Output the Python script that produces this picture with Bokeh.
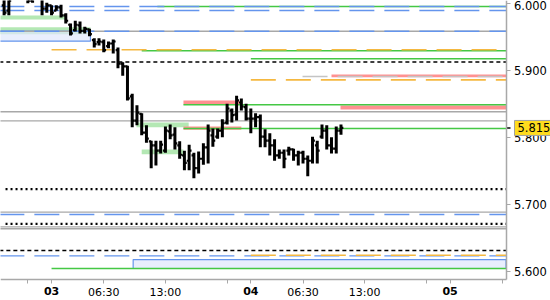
from bokeh.plotting import figure
from bokeh.models import Range1d, FixedTicker, NumeralTickFormatter, Label
from bokeh.embed import file_html
from bokeh.resources import INLINE

# ---- data: 30-minute bars, x = bar slot (slot 0 = first bar of day 03) ----
slots = list(range(-10, 62))
bar_high = [6.013, 6.017, 6.050, 6.058, 6.050, 6.028, 6.023, 6.020, 6.013, 6.002,
            5.998, 5.998, 5.999, 5.986, 5.971, 5.975, 5.974, 5.966, 5.963, 5.949,
            5.949, 5.947, 5.944, 5.947, 5.935, 5.913, 5.908, 5.866, 5.849, 5.837,
            5.819, 5.796, 5.796, 5.796, 5.817, 5.820, 5.816, 5.795, 5.781, 5.790,
            5.778, 5.780, 5.792, 5.820, 5.814, 5.814, 5.828, 5.851, 5.844, 5.863,
            5.859, 5.851, 5.844, 5.837, 5.835, 5.813, 5.807, 5.798, 5.783, 5.783,
            5.787, 5.784, 5.781, 5.781, 5.774, 5.802, 5.796, 5.820, 5.819, 5.801,
            5.817, 5.820]
bar_low = [5.983, 5.983, 6.017, 6.028, 6.017, 6.001, 6.002, 6.008, 5.983, 5.987,
           5.983, 5.990, 5.980, 5.971, 5.953, 5.959, 5.956, 5.956, 5.952, 5.935,
           5.938, 5.928, 5.934, 5.926, 5.904, 5.893, 5.856, 5.816, 5.819, 5.804,
           5.793, 5.755, 5.759, 5.777, 5.778, 5.798, 5.783, 5.769, 5.752, 5.752,
           5.740, 5.747, 5.760, 5.762, 5.787, 5.799, 5.801, 5.820, 5.823, 5.826,
           5.841, 5.826, 5.807, 5.816, 5.786, 5.786, 5.774, 5.766, 5.769, 5.755,
           5.774, 5.766, 5.759, 5.762, 5.743, 5.762, 5.762, 5.799, 5.783, 5.777,
           5.777, 5.805]
bar_open = [5.998, 5.990, 6.020, 6.043, 6.035, 6.020, 6.005, 6.013, 6.010, 5.993,
            5.998, 5.990, 5.995, 5.983, 5.969, 5.961, 5.968, 5.960, 5.962, 5.946,
            5.943, 5.943, 5.937, 5.941, 5.931, 5.911, 5.907, 5.862, 5.826, 5.836,
            5.808, 5.795, 5.789, 5.781, 5.781, 5.810, 5.805, 5.789, 5.774, 5.766,
            5.774, 5.755, 5.769, 5.786, 5.804, 5.802, 5.811, 5.823, 5.841, 5.835,
            5.853, 5.846, 5.829, 5.829, 5.831, 5.802, 5.796, 5.789, 5.774, 5.778,
            5.781, 5.783, 5.774, 5.778, 5.769, 5.766, 5.789, 5.802, 5.811, 5.789,
            5.784, 5.811]
bar_close = [5.987, 6.005, 6.043, 6.035, 6.020, 6.005, 6.013, 6.010, 5.993, 5.998,
             5.987, 5.995, 5.983, 5.975, 5.956, 5.969, 5.960, 5.963, 5.955, 5.940,
             5.944, 5.931, 5.941, 5.944, 5.911, 5.907, 5.859, 5.826, 5.838, 5.808,
             5.799, 5.789, 5.781, 5.790, 5.811, 5.804, 5.792, 5.775, 5.763, 5.781,
             5.755, 5.769, 5.786, 5.811, 5.796, 5.811, 5.822, 5.844, 5.834, 5.856,
             5.847, 5.829, 5.829, 5.831, 5.802, 5.796, 5.789, 5.774, 5.778, 5.769,
             5.783, 5.774, 5.778, 5.769, 5.766, 5.796, 5.781, 5.811, 5.789, 5.784,
             5.811, 5.815]
last_price = 5.815

# x ticks (bar slots) and their labels
x_ticks = [-5, 0, 11, 24, 37, 42, 53, 66, 79, 84, 95]
x_tick_labels = ["", "03", "06:30", "13:00", "", "04", "06:30", "13:00", "", "05", ""]
day_labels = ["03", "04", "05"]
y_ticks = [5.6, 5.7, 5.8, 5.9, 6.0]

# horizontal levels: price and first slot
gray_levels = [5.9594, 5.8391, 5.8256, 5.6893, 5.6674, 5.6645]
blue_dash_levels = [5.9962, 5.9903, 5.9594, 5.6858, 5.6241]
black_dash_levels = [5.9134, 5.6321]
black_dot_levels = [5.7236, 5.6719]
black_dot_starts = [-9.7, -9.7]
green_levels = [5.9962, 5.9301, 5.9182, 5.8495, 5.8141, 5.6052]
green_starts = [22.3, 19.0, 42.0, 27.8, 27.8, 0.0]
orange_levels = [5.9316, 5.8868, 5.6250]
orange_starts = [0.0, 42.0, 42.0]
grey_dash_levels = [5.8918]
grey_dash_starts = [52.9]

# zones: start slot, end slot (None = open to the right), top, bottom
green_zone_start = [-11.0, -11.0, 17.9, 19.0]
green_zone_end = [3.0, 8.2, 28.9, 27.8]
green_zone_top = [5.9828, 5.9654, 5.8231, 5.7828]
green_zone_bottom = [5.9768, 5.9550, 5.8161, 5.7758]
pink_zone_start = [27.8, 27.8, 59.0, 60.9]
pink_zone_end = [39.6, 40.0, None, None]
pink_zone_top = [5.8559, 5.8172, 5.8948, 5.8485]
pink_zone_bottom = [5.8500, 5.8122, 5.8908, 5.8425]
blue_zone_start = [-11.0, 17.2]
blue_zone_end = [8.2, None]
blue_zone_top = [5.9594, 5.6186]
blue_zone_bottom = [5.9445, 5.6052]

# view: last visible slot at the price axis, lowest price at the time axis
X_MIN, X_EDGE = -10.76, 95.78
Y_EDGE, Y_MAX = 5.5888, 6.0052
PX_X = 4.745   # pixels per slot
PX_Y = 670.0   # pixels per price unit
X_MAX = X_EDGE + 44.5 / PX_X
Y_MIN = Y_EDGE - 21.0 / PX_Y

p = figure(width=550, height=300, x_range=Range1d(X_MIN, X_MAX),
           y_range=Range1d(Y_MIN, Y_MAX), y_axis_location="right",
           toolbar_location=None, output_backend="svg", min_border=0)
p.outline_line_color = None
p.grid.visible = False
p.background_fill_color = "white"
p.border_fill_color = "white"

GREEN = "#44c844"
BLUE = "#6495ed"
GRAY = "#a8a8a8"
ORANGE = "#f5b840"
PINK = "#ff9191"

def ends(lst):
    return [X_EDGE if e is None else e for e in lst]

# zones
p.quad(left=green_zone_start, right=green_zone_end, top=green_zone_top,
       bottom=green_zone_bottom, fill_color="#b4e8b4", line_color=None)
p.quad(left=pink_zone_start, right=ends(pink_zone_end), top=pink_zone_top,
       bottom=pink_zone_bottom, fill_color=PINK, line_color=None)
p.quad(left=blue_zone_start, right=ends(blue_zone_end), top=blue_zone_top,
       bottom=blue_zone_bottom, fill_color="#dfe7fc", fill_alpha=0.7,
       line_color=BLUE, line_width=1.2)

def hl(levels, starts, color, dash="solid", width=1.2):
    if starts is None:
        starts = [-11.0] * len(levels)
    p.segment(x0=starts, x1=[X_EDGE] * len(levels), y0=levels, y1=levels,
              line_color=color, line_dash=dash, line_width=width)

hl(gray_levels, None, GRAY, "solid", 1.4)
hl(green_levels, green_starts, GREEN, "solid", 1.4)
hl(blue_dash_levels, None, BLUE, "25 10", 1.4)
hl(orange_levels, orange_starts, ORANGE, "25 10", 1.6)
hl(grey_dash_levels, grey_dash_starts, "#c4c4c4", "25 10", 1.6)
hl(black_dash_levels, None, "black", "4 3", 1.4)
hl(black_dot_levels, black_dot_starts, "black", "2 3", 2.2)

# OHLC bars
p.segment(x0=slots, x1=slots, y0=bar_low, y1=bar_high, line_color="black",
          line_width=3)
p.segment(x0=[s - 0.5 for s in slots], x1=slots, y0=bar_open, y1=bar_open,
          line_color="black", line_width=2.2)
p.segment(x0=slots, x1=[s + 0.5 for s in slots], y0=bar_close, y1=bar_close,
          line_color="black", line_width=2.2)

# last-price marker tick on the price axis
p.segment(x0=[X_EDGE], x1=[X_EDGE + 4.5 / PX_X], y0=[last_price], y1=[last_price],
          line_color="black", line_width=1.5)

# axes drawn at fixed positions inside the canvas
ax = p.yaxis[0]
ax.fixed_location = X_EDGE
ax.bounds = (Y_EDGE, Y_MAX)
ax.ticker = FixedTicker(ticks=y_ticks)
ax.formatter = NumeralTickFormatter(format="0.000")
ax.major_tick_out = 4
ax.major_tick_in = 0
ax.minor_tick_line_color = None
ax.axis_line_color = GRAY
ax.axis_line_width = 1.5
ax.major_tick_line_color = GRAY
ax.major_label_text_font = "DejaVu Sans"
ax.major_label_text_font_size = "11.5px"
ax.major_label_text_color = "black"
ax.major_label_standoff = 4

bx = p.xaxis[0]
bx.fixed_location = Y_EDGE
bx.bounds = (X_MIN, X_EDGE)
bx.ticker = FixedTicker(ticks=x_ticks)
bx.major_label_overrides = {t: ("" if lab in day_labels else lab)
                            for t, lab in zip(x_ticks, x_tick_labels)}
bx.major_tick_out = 4
bx.major_tick_in = 0
bx.minor_tick_line_color = None
bx.axis_line_color = GRAY
bx.axis_line_width = 1.5
bx.major_tick_line_color = GRAY
bx.major_label_text_font = "DejaVu Sans"
bx.major_label_text_font_size = "11px"
bx.major_label_text_color = "black"
bx.major_label_standoff = 3

# bold day labels under their ticks
day_label_y = Y_EDGE - 11.7 / PX_Y
for t, lab in zip(x_ticks, x_tick_labels):
    if lab in day_labels:
        p.add_layout(Label(x=t, y=day_label_y, text=lab, text_align="center",
                           text_baseline="middle", text_font="DejaVu Sans",
                           text_font_size="11px", text_font_style="bold",
                           text_color="black"))

# last price box
p.add_layout(Label(x=X_EDGE + 8.5 / PX_X, y=last_price, text=f"{last_price:.3f}",
                   text_align="left", text_baseline="middle",
                   text_font="DejaVu Sans", text_font_size="11.5px",
                   text_color="black", background_fill_color="#ffdc1e",
                   border_line_color="#a0a0a0", border_line_width=1,
                   padding=3))

open("out.html", "w").write(file_html(p, INLINE))
